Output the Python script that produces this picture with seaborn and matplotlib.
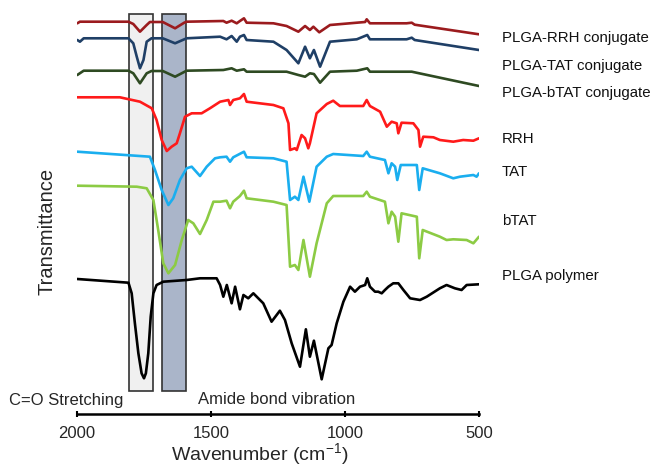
import matplotlib
matplotlib.use("Agg")
import matplotlib.pyplot as plt
from matplotlib.patches import Rectangle
import seaborn as sns
import pandas as pd

# ---------------- data (wavenumber, stacked transmittance in arbitrary units) -------------
names = ["PLGA-RRH conjugate", "PLGA-TAT conjugate", "PLGA-bTAT conjugate",
         "RRH", "TAT", "bTAT", "PLGA polymer"]
colors = ["#9B1B1E", "#1F3F66", "#2E4A22", "#FF1A1A", "#1AAEEF", "#8CCB44", "#000000"]

rrh_conj_w = [1999, 1989, 1808, 1790, 1765, 1740, 1728, 1680, 1634, 1600, 1591, 1454, 1442, 1423,
              1404, 1392, 1377, 1367, 1267, 1218, 1174, 1149, 1131, 1118, 1096, 1056, 956, 925,
              919, 907, 770, 751, 740, 500]
rrh_conj_t = [390.7, 392.3, 392.3, 390, 382.3, 389, 392, 392, 385.7, 391.3, 392.3, 393, 391.3, 393.3,
              390.7, 393, 395.7, 391.3, 390.7, 388, 382.3, 388, 384, 387.3, 381.7, 389, 391.3, 392,
              394.7, 390.7, 390.7, 391.3, 389.3, 379.7]

tat_conj_w = [1999, 1989, 1975, 1808, 1790, 1777, 1765, 1752, 1740, 1722, 1680, 1634, 1591, 1466,
              1442, 1423, 1404, 1392, 1377, 1367, 1267, 1218, 1174, 1149, 1131, 1116, 1093, 1056,
              956, 917, 907, 770, 751, 740, 500]
tat_conj_t = [374, 372.3, 375.7, 375.7, 370.7, 357.3, 345.7, 354, 372.3, 375.7, 375.7, 370.7, 375.7, 377.3,
              374.7, 378, 372.3, 377.3, 379, 374, 372.3, 364, 350.7, 367.3, 355.7, 364, 347.3, 372.3,
              374.7, 379, 374.7, 374.7, 376.3, 374, 364]

btat_conj_w = [1999, 1975, 1808, 1790, 1765, 1740, 1722, 1680, 1634, 1591, 1454, 1423, 1404, 1377,
               1367, 1218, 1174, 1149, 1131, 1116, 1093, 1056, 956, 917, 907, 751, 500]
btat_conj_t = [339, 343.3, 343.3, 340.7, 330.7, 340.7, 343, 343, 337.3, 343.3, 344, 345.7, 343.3, 344.7,
               342.3, 342.3, 339, 337.3, 340.7, 340, 331.3, 342.3, 343.3, 345.7, 342.3, 342.3, 328]

rrh_w = [1999, 1840, 1765, 1721, 1703, 1684, 1665, 1647, 1628, 1616, 1597, 1572, 1535, 1504, 1466,
         1435, 1429, 1417, 1392, 1377, 1367, 1267, 1230, 1211, 1205, 1187, 1180, 1162, 1149, 1137,
         1131, 1106, 1068, 1044, 1019, 932, 919, 907, 869, 844, 826, 807, 801, 789, 745, 726, 720,
         708, 670, 646, 596, 559, 521, 500]
rrh_t = [316.7, 316.7, 312.3, 305.7, 294, 274, 263, 267.3, 270.7, 280.7, 297.3, 300.7, 300.7, 305.7, 312.3,
         314, 309, 314, 315.7, 320, 312.3, 309, 305.7, 290.7, 264, 265.7, 264, 279, 275.7, 265.7,
         270.7, 300.7, 310, 313.3, 308, 308, 314, 308, 302.3, 287.3, 292.3, 290.7, 280.7, 291.3, 290.7,
         284, 267.3, 277.3, 276.7, 274, 272.3, 274, 273.3, 275.7]

tat_w = [1999, 1728, 1709, 1684, 1659, 1641, 1616, 1591, 1572, 1541, 1516, 1485, 1466, 1442,
         1429, 1417, 1377, 1367, 1267, 1218, 1205, 1187, 1174, 1155, 1133, 1106, 1068, 1044, 932,
         919, 907, 851, 838, 826, 813, 805, 792, 732, 723, 710, 646, 596, 571, 521, 509, 500]
tat_t = [262.3, 257.3, 244, 224, 209, 215.7, 234, 245.7, 247.3, 238, 247.3, 255.7, 256.7, 257.3,
         252.3, 256.7, 262.3, 256.7, 255.7, 252.3, 214, 217.3, 214, 237.3, 212.3, 247.3, 257.3,
         260, 258, 262.3, 257.3, 254, 240.7, 250.7, 247.3, 234, 249, 249, 224, 245.7, 240.7, 235.7,
         237.3, 239, 237.3, 240.7]

btat_w = [1999, 1777, 1740, 1715, 1697, 1678, 1659, 1634, 1609, 1585, 1566, 1541, 1516, 1491,
          1466, 1442, 1429, 1417, 1392, 1377, 1367, 1267, 1218, 1205, 1187, 1174, 1155, 1131, 1106,
          1068, 1044, 932, 919, 907, 851, 838, 826, 813, 801, 789, 732, 723, 710, 646, 621, 596,
          546, 521, 500]
btat_t = [228.3, 227.3, 225.7, 214, 184, 150.7, 140.7, 149, 174, 194, 190.7, 180, 194, 212.3,
          212.3, 213.3, 205.7, 212.3, 218, 223.3, 215.7, 212.3, 209, 147.3, 149, 144, 174, 137.3,
          170.7, 210.7, 218, 218, 222.3, 217.3, 212.3, 190.7, 202.3, 197.3, 172.3, 200.7, 197.3,
          155.7, 184, 177.3, 174, 174.7, 174, 170.7, 177.3]

plga_w = [1999, 1808, 1796, 1784, 1771, 1759, 1750, 1743, 1734, 1725, 1715, 1703, 1678, 1591, 1541,
          1479, 1466, 1454, 1441, 1423, 1410, 1392, 1379, 1361, 1342, 1305, 1274, 1243, 1224, 1199,
          1168, 1146, 1131, 1116, 1087, 1062, 1050, 1031, 1006, 981, 963, 944, 925, 917, 907, 888,
          876, 863, 851, 838, 820, 801, 782, 757, 720, 695, 646, 621, 590, 565, 546, 500]
plga_t = [135, 131.3, 120.7, 90.7, 60.7, 40.7, 35.7, 40.7, 60.7, 97.3, 120.7, 129, 132.3, 134, 135.7,
          135.7, 129, 117.3, 129, 110.7, 127.3, 104.7, 119, 115.7, 120.7, 110.7, 92.3, 103.3, 94, 70.7,
          47.3, 84.7, 57.3, 73.3, 34.7, 65.7, 69, 90.7, 112.3, 127.3, 122.3, 127.3, 129, 135.7, 127.3,
          122.3, 122.3, 120.7, 124, 127.3, 130.7, 130.7, 124, 115.7, 114, 117.3, 125.7, 129, 125.7,
          124, 129, 129.7]

series_w = [rrh_conj_w, tat_conj_w, btat_conj_w, rrh_w, tat_w, btat_w, plga_w]
series_t = [rrh_conj_t, tat_conj_t, btat_conj_t, rrh_t, tat_t, btat_t, plga_t]

# label anchor levels for the series names (same units as the traces)
label_levels = [376, 348, 321, 275, 242, 193, 138]

band_co = (1807, 1718)      # C=O stretching band
band_amide = (1683, 1593)   # amide band
band_bottom, band_top = 23, 400

xticks = [2000, 1500, 1000, 500]

# ---------------- figure -------------
sns.set_style("white")
plt.rcParams["font.family"] = ["Liberation Sans", "DejaVu Sans"]
plt.rcParams["mathtext.fontset"] = "custom"
plt.rcParams["mathtext.rm"] = "Liberation Sans"
plt.rcParams["mathtext.it"] = "Liberation Sans"

fig = plt.figure(figsize=(6.54, 4.66), dpi=100)
ax = fig.add_axes([77 / 654, 52 / 466, 402 / 654, 414 / 466])

for (x0, x1), fc in [(band_co, "#F0F0F0"), (band_amide, "#AAB5C9")]:
    ax.add_patch(Rectangle((x1, band_bottom), x0 - x1, band_top - band_bottom,
                           facecolor=fc, edgecolor="#333333", linewidth=1.2, zorder=1))

for name, w, t, c in zip(names, series_w, series_t, colors):
    df = pd.DataFrame({"w": w, "t": t})
    sns.lineplot(data=df, x="w", y="t", ax=ax, color=c, linewidth=1.9,
                 estimator=None, sort=False, zorder=3)

for name, lvl in zip(names, label_levels):
    ax.text(414, lvl, name, fontsize=10.8, ha="left", va="center", clip_on=False, color="#111111")

ax.text(1828, 14, "C=O Stretching", fontsize=12, ha="right", va="center", clip_on=False)
ax.text(1549, 14, "Amide bond vibration", fontsize=12, ha="left", va="center", clip_on=False)

ax.set_xlim(2000, 500)
ax.set_ylim(0, 414)
ax.set_xticks(xticks)
ax.set_xticklabels([str(v) for v in xticks], fontsize=12)
ax.set_yticks([])
ax.tick_params(axis="x", bottom=True, direction="inout", length=5, width=1.5, pad=6, color="black")
for s in ["top", "right", "left"]:
    ax.spines[s].set_visible(False)
ax.spines["bottom"].set_linewidth(1.8)
ax.spines["bottom"].set_color("black")
ax.set_xlabel("Wavenumber (cm$^{-1}$)", fontsize=14, labelpad=0)
ax.xaxis.set_label_coords(0.454, -0.066)
ax.set_ylabel("Transmittance", fontsize=14.5)
ax.yaxis.set_label_coords(-0.052, 0.44)

fig.savefig("out.png", dpi=100)
